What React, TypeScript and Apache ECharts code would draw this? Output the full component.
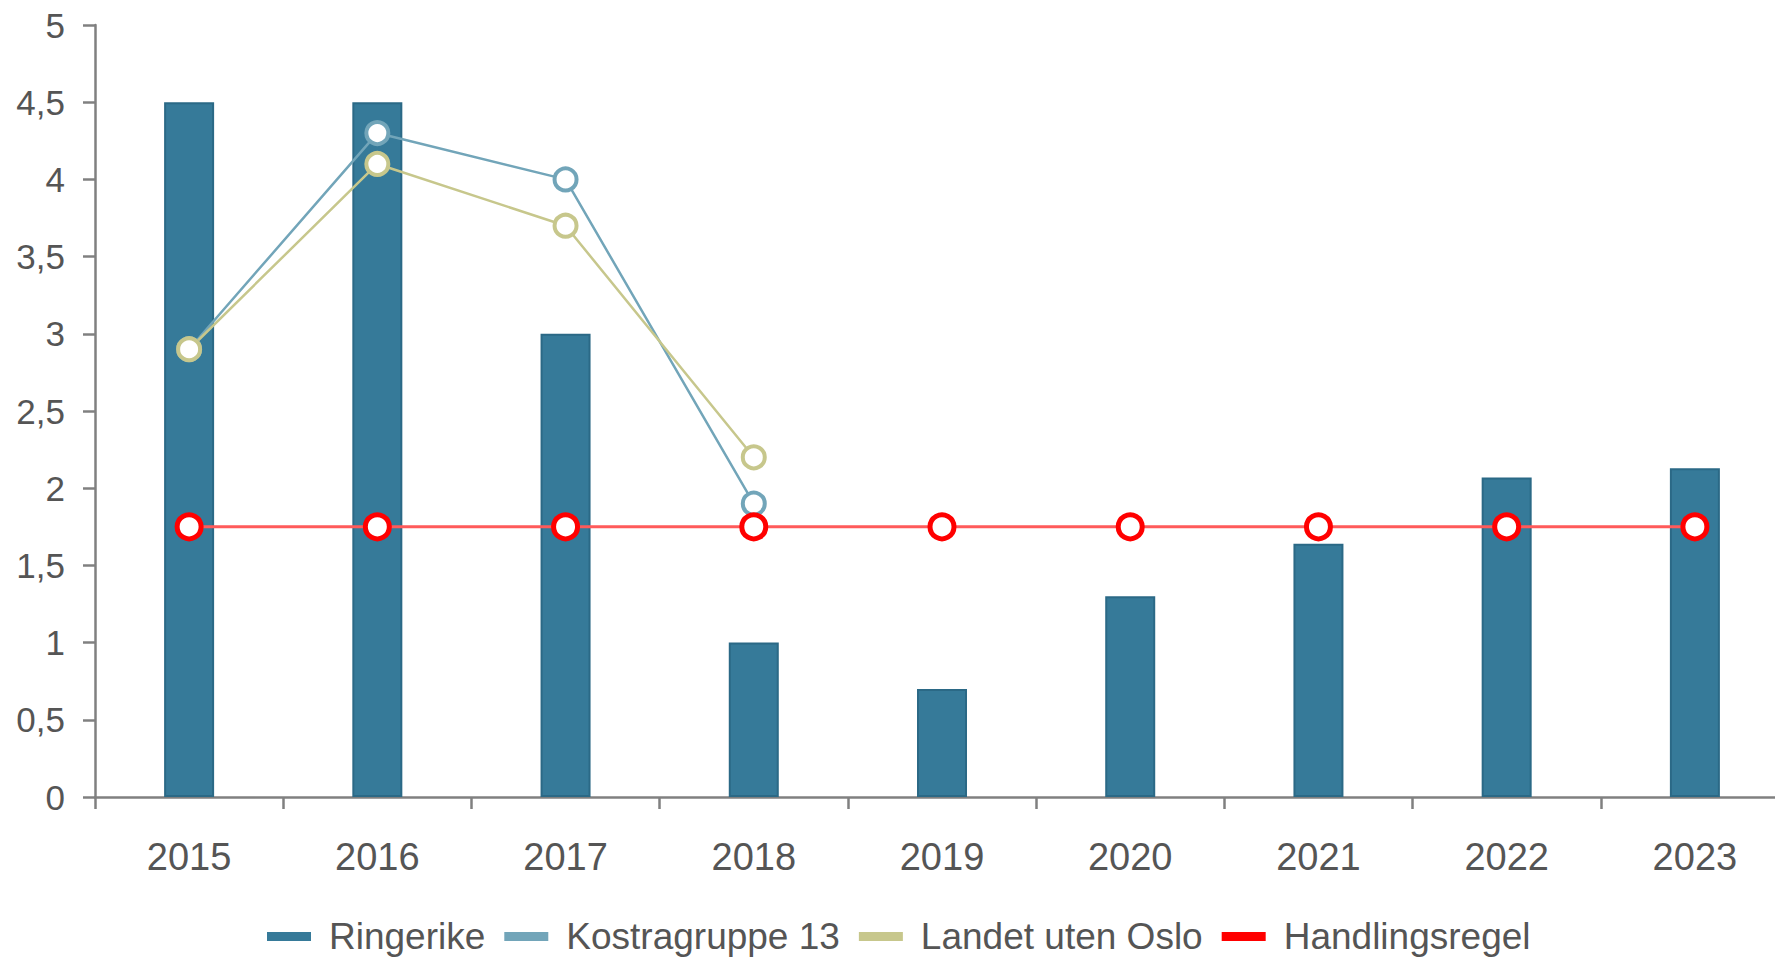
import React, { useEffect, useRef } from "react";
import * as echarts from "echarts";

const categories = ["2015", "2016", "2017", "2018", "2019", "2020", "2021", "2022", "2023"];
const ringerike = [4.5, 4.5, 3.0, 1.0, 0.7, 1.3, 1.64, 2.07, 2.13];
const kostragruppe13 = [2.9, 4.3, 4.0, 1.9, null, null, null, null, null];
const landetUtenOslo = [2.9, 4.1, 3.7, 2.2, null, null, null, null, null];
const handlingsregel = [1.75, 1.75, 1.75, 1.75, 1.75, 1.75, 1.75, 1.75, 1.75];

const FONT = "'Liberation Sans', Arial, sans-serif";
const TEXT = "#555555";
const BAR = "#367a99";
const KOSTRA = "#72a5b9";
const LANDET = "#c7c78c";
const RED = "#ff0000";

export default function App() {
  const ref = useRef<HTMLDivElement>(null);
  useEffect(() => {
    document.body.style.margin = "0";
    const chart = echarts.init(ref.current!, null, { renderer: "svg" });
    chart.setOption({
      animation: false,
      backgroundColor: "#ffffff",
      textStyle: { fontFamily: FONT },
      grid: { left: 95, right: 11, top: 25, bottom: 161, containLabel: false },
      xAxis: {
        type: "category",
        data: categories,
        boundaryGap: true,
        axisLine: { lineStyle: { color: "#808080", width: 2.5 } },
        axisTick: { show: true, alignWithLabel: false, length: 12, lineStyle: { color: "#808080", width: 2.5 } },
        axisLabel: { color: TEXT, fontSize: 38, margin: 41, fontFamily: FONT },
      },
      yAxis: {
        type: "value",
        min: 0,
        max: 5,
        interval: 0.5,
        splitLine: { show: false },
        axisLine: { show: true, lineStyle: { color: "#808080", width: 2.5 } },
        axisTick: { show: true, length: 12, lineStyle: { color: "#808080", width: 2.5 } },
        axisLabel: {
          color: TEXT,
          fontSize: 35,
          margin: 30,
          fontFamily: FONT,
          formatter: (v: number) => String(v).replace(".", ","),
        },
      },
      legend: {
        bottom: -2,
        left: 262,
        icon: "rect",
        itemWidth: 44,
        itemHeight: 9,
        itemGap: 19,
        textStyle: { color: TEXT, fontSize: 37, fontFamily: FONT, padding: [0, 0, 0, 13] },
        data: [
          { name: "Ringerike", itemStyle: { color: BAR, borderWidth: 0 } },
          { name: "Kostragruppe 13", itemStyle: { color: KOSTRA, borderWidth: 0 }, lineStyle: { color: KOSTRA, width: 9 } },
          { name: "Landet uten Oslo", itemStyle: { color: LANDET, borderWidth: 0 }, lineStyle: { color: LANDET, width: 9 } },
          { name: "Handlingsregel", itemStyle: { color: RED, borderWidth: 0 }, lineStyle: { color: RED, width: 9 } },
        ],
      },
      series: [
        {
          name: "Ringerike",
          type: "bar",
          data: ringerike,
          barWidth: 50,
          itemStyle: { color: BAR, borderColor: "#2b6986", borderWidth: 2 },
        },
        {
          name: "Kostragruppe 13",
          type: "line",
          data: kostragruppe13,
          symbol: "circle",
          symbolSize: 22,
          lineStyle: { color: KOSTRA, width: 2.5 },
          itemStyle: { color: "#ffffff", borderColor: KOSTRA, borderWidth: 4 },
          connectNulls: false,
        },
        {
          name: "Landet uten Oslo",
          type: "line",
          data: landetUtenOslo,
          symbol: "circle",
          symbolSize: 22,
          lineStyle: { color: LANDET, width: 2.5 },
          itemStyle: { color: "#ffffff", borderColor: LANDET, borderWidth: 4 },
          connectNulls: false,
        },
        {
          name: "Handlingsregel",
          type: "line",
          data: handlingsregel,
          symbol: "circle",
          symbolSize: 24,
          lineStyle: { color: "#ff5a5a", width: 3 },
          itemStyle: { color: "#ffffff", borderColor: RED, borderWidth: 5 },
        },
      ],
    });
    return () => chart.dispose();
  }, []);
  return (
    <div style={{ width: 1775, height: 958, overflow: "hidden", position: "relative" }}>
      <div ref={ref} style={{ width: 1800, height: 958 }} />
    </div>
  );
}
